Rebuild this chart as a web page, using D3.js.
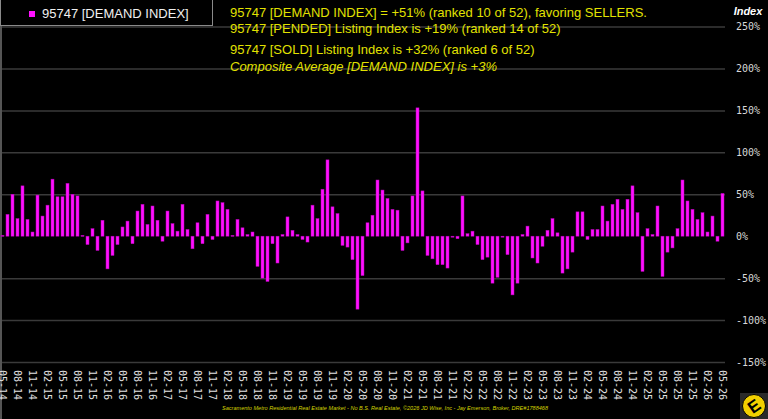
<!DOCTYPE html>
<meta charset="utf-8">
<body style="margin:0;background:#000">
<style>
  body { margin: 0; background: #000; overflow: hidden; }
  .axis path { display: none; }
  .grid line { stroke: #3a3a3a; stroke-width: 1.5; }
  .ylab text { fill: #d8d8d8; font: 10px "DejaVu Sans Mono", monospace; }
  .xlab text { fill: #e0e0e0; font: 10px "DejaVu Sans Mono", monospace; }
</style>
<div id="chart"></div>
<script src="https://cdnjs.cloudflare.com/ajax/libs/d3/7.8.5/d3.min.js"></script>
<script>
  // months 05-14 .. 05-26
  var categories = [];
  for (var yr = 2014, mo = 5; yr < 2026 || (yr == 2026 && mo <= 5); mo++) {
    if (mo > 12) { mo = 1; yr++; }
    if (yr == 2026 && mo > 5) break;
    categories.push(d3.format("02")(mo) + "-" + String(yr).slice(2));
  }

  // demand index, % (one per month)
  var demandIndex = [
    1, 26, 50, 21, 60, 20, 5, 49,                      // 2014
    24, 37, 68, 47, 47, 63, 50, 48, 1, -10, 9, -17,    // 2015
    19, -39, -23, -10, 11, 18, -9, 30, 38, 14, 36, 19, // 2016
    -6, 30, 15, 6, 38, 8, -15, 16, -9, 26, -4, 42,     // 2017
    40, 32, 1, 20, 10, 2, 5, -36, -50, -54, -9, -32,   // 2018
    2, 23, 7, 2, -4, -7, 37, 21, 56, 91, 35, 27,       // 2019
    -11, -13, -28, -87, -47, 16, 25, 67, 55, 45, 32, 31, // 2020
    -17, -8, 48, 153, 54, -23, -27, -34, -34, -38, 0, -3, // 2021
    48, 3, 6, -10, -28, -25, -56, -49, -1, -22, -70, -56, // 2022
    2, 12, -26, -32, -12, 7, 21, 4, -44, -39, -19, 29,  // 2023
    29, -4, 8, 8, 36, 18, 38, 44, 32, 44, 60, 28,       // 2024
    -42, 9, 2, 36, -48, -19, -14, 9, 67, 42, 32, 20,    // 2025
    28, 5, 24, -6, 51                                   // 2026
  ];

  var tickLabels = [
    "05-14", "08-14", "11-14", "02-15", "05-15", "08-15", "11-15", "02-16", "05-16", "08-16",
    "11-16", "02-17", "05-17", "08-17", "11-17", "02-18", "05-18", "08-18", "11-18", "02-19",
    "05-19", "08-19", "11-19", "02-20", "05-20", "08-20", "11-20", "02-21", "05-21", "08-21",
    "11-21", "02-22", "05-22", "08-22", "11-22", "02-23", "05-23", "08-23", "11-23", "02-24",
    "05-24", "08-24", "11-24", "02-25", "05-25", "08-25", "11-25", "02-26", "05-26"
  ];

  var yTicks = [-150, -100, -50, 0, 50, 100, 150, 200, 250];

  var infoLines = [
    "95747 [DEMAND INDEX] = +51% (ranked 10 of 52), favoring SELLERS.",
    "95747 [PENDED] Listing Index is +19% (ranked 14 of 52)",
    "95747 [SOLD] Listing Index is +32% (ranked 6 of 52)",
    "Composite Average [DEMAND INDEX] is +3%"
  ];

  var footer = "Sacramento Metro Residential Real Estate Market - No B.S. Real Estate, \u00a92026 JD Wise, Inc - Jay Emerson, Broker, DRE#1788468";

  var W = 768, H = 419, plotW = 725;

  var data = categories.map(function(c, i) { return { month: c, value: demandIndex[i] }; });

  var x = d3.scaleBand()
    .domain(categories)
    .range([0, plotW])
    .paddingInner(0.4)
    .paddingOuter(0.2);

  var y = d3.scaleLinear()
    .domain([-150, 250])
    .range([362, 26.5]);

  var svg = d3.select("#chart").append("svg")
    .attr("width", W)
    .attr("height", H)
    .style("background", "#000")
    .style("display", "block");

  // grid + right axis labels
  var yAxis = svg.append("g")
    .attr("class", "axis grid ylab")
    .attr("transform", "translate(" + plotW + ",0)")
    .call(d3.axisRight(y)
      .tickValues(yTicks)
      .tickSizeInner(-plotW)
      .tickSizeOuter(0)
      .tickPadding(11)
      .tickFormat(function(d) { return d + "%"; }));
  // no grid line at 0%
  yAxis.selectAll(".tick")
    .filter(function(d) { return d === 0; })
    .select("line").remove();

  // left border
  svg.append("line")
    .attr("x1", 1).attr("x2", 1)
    .attr("y1", 0).attr("y2", H)
    .attr("stroke", "#555").attr("stroke-width", 2);

  // axis title
  svg.append("text")
    .attr("x", 748)
    .attr("y", 15)
    .attr("text-anchor", "middle")
    .style("font", "italic bold 11px 'Liberation Sans', Arial, sans-serif")
    .style("fill", "#fff")
    .text("Index");

  // bars
  svg.selectAll(".bars")
    .data(data)
    .enter().append("rect")
    .attr("class", "bars")
    .attr("x", function(d) { return x(d.month); })
    .attr("width", x.bandwidth())
    .attr("y", function(d) { return y(Math.max(0, d.value)); })
    .attr("height", function(d) { return Math.max(1, Math.abs(y(d.value) - y(0))); })
    .style("fill", "#ff10ff")
    .style("stroke", "#b000b0")
    .style("stroke-width", 0.5);

  // x axis labels, rotated
  var xAxis = svg.append("g")
    .attr("class", "axis xlab")
    .attr("transform", "translate(0,363)")
    .call(d3.axisBottom(x).tickValues(tickLabels).tickSize(0));
  xAxis.selectAll("text")
    .attr("transform", "rotate(90)")
    .attr("x", 7)
    .attr("y", 0)
    .attr("dy", "0.35em")
    .style("text-anchor", "start");

  // legend box
  svg.append("rect")
    .attr("x", 0.5).attr("y", -1)
    .attr("width", 212).attr("height", 26.5)
    .style("fill", "#000")
    .style("stroke", "#8a8a8a");
  svg.append("rect")
    .attr("x", 29).attr("y", 11)
    .attr("width", 6).attr("height", 6)
    .style("fill", "#ff10ff");
  svg.append("text")
    .attr("x", 42).attr("y", 18)
    .style("font", "13px 'Liberation Sans', Arial, sans-serif")
    .style("fill", "#f0f0f0")
    .text("95747 [DEMAND INDEX]");

  // info text
  var baselines = [17, 33, 54, 71];
  svg.selectAll(".info")
    .data(infoLines)
    .enter().append("text")
    .attr("class", "info")
    .attr("x", 230)
    .attr("y", function(d, i) { return baselines[i]; })
    .style("font", function(d, i) { return (i == 3 ? "italic " : "") + "13px 'Liberation Sans', Arial, sans-serif"; })
    .style("fill", "#e2e200")
    .text(function(d) { return d; });

  // footer
  svg.append("text")
    .attr("x", 222).attr("y", 410)
    .attr("textLength", 326)
    .attr("lengthAdjust", "spacingAndGlyphs")
    .style("font", "italic 6px 'Liberation Sans', Arial, sans-serif")
    .style("fill", "#d4d400")
    .text(footer);

  // logo
  var logo = svg.append("g").attr("transform", "translate(754,406)");
  logo.append("rect")
    .attr("x", -14).attr("y", -13).attr("width", 28).attr("height", 28)
    .style("fill", "#2a2a2a");
  logo.append("circle")
    .attr("r", 11.5)
    .style("fill", "#f2d000")
    .style("stroke", "#000").style("stroke-width", 1);
  logo.append("text")
    .attr("transform", "rotate(-35)")
    .attr("text-anchor", "middle")
    .attr("dy", "0.36em")
    .style("font", "bold 17px 'Liberation Sans', Arial, sans-serif")
    .style("fill", "#000")
    .text("E");
</script>
</body>
